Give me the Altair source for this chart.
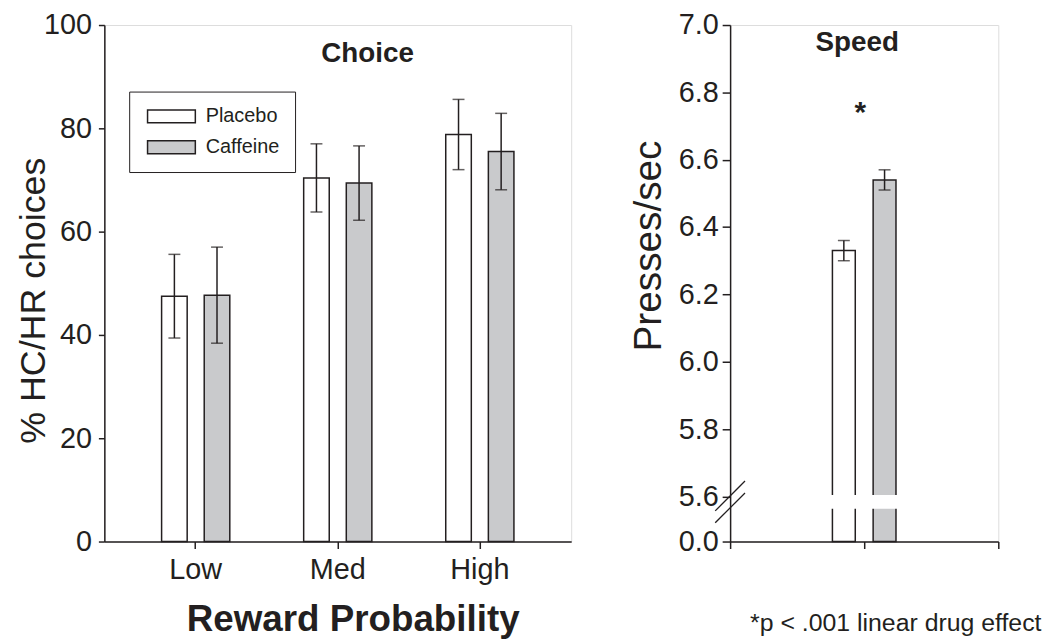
import altair as alt
import pandas as pd

FONT = "Liberation Sans"
INK = "#231f20"
GRAY = "#c9cacc"

# ---------------- data ----------------
reward_levels = ["Low", "Med", "High"]
drugs = ["Placebo", "Caffeine"]

choice_placebo = [47.5, 70.4, 78.8]
choice_caffeine = [47.7, 69.4, 75.5]
choice_err_placebo = [8.1, 6.6, 6.8]
choice_err_caffeine = [9.3, 7.2, 7.4]
choice_ticks = [0, 20, 40, 60, 80, 100]

speed_mean = [6.33, 6.54]      # Placebo, Caffeine
speed_err = [0.03, 0.03]
speed_floor = 5.466            # where the broken axis shows "0.0"
speed_ticks = [5.466, 5.6, 5.8, 6.0, 6.2, 6.4, 6.6, 6.8, 7.0]
speed_top = 7.0
break_gap = [5.568, 5.60]      # white gap cut through the bars
slash_left_y = [5.557, 5.522]  # axis-break slashes (left ends)
slash_right_y = [5.646, 5.610] # axis-break slashes (right ends)
sig_y = 6.74

rows = []
for i, r in enumerate(reward_levels):
    rows.append({"Reward": r, "Drug": "Placebo", "Mean": choice_placebo[i], "Err": choice_err_placebo[i]})
    rows.append({"Reward": r, "Drug": "Caffeine", "Mean": choice_caffeine[i], "Err": choice_err_caffeine[i]})
choice_df = pd.DataFrame(rows)

speed_df = pd.DataFrame({"Drug": drugs, "Mean": speed_mean, "Err": speed_err,
                         "GapLo": [break_gap[0]] * 2, "GapHi": [break_gap[1]] * 2})
slash_df = pd.DataFrame({"y1": slash_left_y, "y2": slash_right_y})

fill_scale = alt.Scale(domain=drugs, range=["#ffffff", GRAY])

# ---------------- left panel: Choice ----------------
lbase = alt.Chart(choice_df).transform_calculate(
    lo="datum.Mean - datum.Err", hi="datum.Mean + datum.Err"
).encode(
    x=alt.X("Reward:N", sort=reward_levels,
            scale=alt.Scale(domain=reward_levels, paddingInner=0.4, paddingOuter=0.343),
            axis=alt.Axis(title="Reward Probability", labelAngle=0, labelFont=FONT,
                          labelFontSize=29, labelColor=INK, labelPadding=7, tickSize=7,
                          tickColor=INK, tickWidth=1.5, domainColor=INK, domainWidth=1.5,
                          titleFont=FONT, titleFontSize=37, titleFontWeight="bold",
                          titleColor=INK, titleX=250, titleY=90, titleAlign="center",
                          titleBaseline="alphabetic")),
    xOffset=alt.XOffset("Drug:N", sort=drugs,
                        scale=alt.Scale(domain=drugs, paddingInner=0.4, paddingOuter=0.2)),
)

lbars = lbase.mark_bar(stroke=INK, strokeWidth=1.5).encode(
    y=alt.Y("Mean:Q", scale=alt.Scale(domain=[0, 100], nice=False),
            axis=alt.Axis(values=choice_ticks, grid=False, labelFont=FONT, labelFontSize=29,
                          labelColor=INK, labelPadding=7, tickSize=6, tickColor=INK,
                          tickWidth=1.5, domainColor=INK, domainWidth=1.5,
                          title="% HC/HR choices", titleFont=FONT, titleFontSize=36,
                          titleFontWeight="normal", titleColor=INK, titleX=-71, titleY=277,
                          titleAngle=-90, titleBaseline="middle", titleAlign="center")),
    fill=alt.Fill("Drug:N", sort=drugs, scale=fill_scale,
                  legend=alt.Legend(title=None, orient="none", legendX=25, legendY=67,
                                    symbolType="M-1,-1H6.4V1H-1Z", symbolSize=169,
                                    symbolStrokeColor=INK, symbolStrokeWidth=1.5,
                                    labelFont=FONT, labelFontSize=20, labelColor=INK,
                                    labelOffset=42, rowPadding=11, padding=15,
                                    strokeColor=INK)),
)
lrule = lbase.mark_rule(color=INK, strokeWidth=1.5).encode(y="lo:Q", y2="hi:Q")
lcap_lo = lbase.mark_tick(color=INK, thickness=1.5, size=12).encode(y="lo:Q")
lcap_hi = lbase.mark_tick(color=INK, thickness=1.5, size=12).encode(y="hi:Q")

choice_title = alt.Chart(pd.DataFrame({"t": ["Choice"]})).mark_text(
    font=FONT, fontSize=28, fontWeight="bold", color=INK, baseline="middle", align="center"
).encode(x=alt.value(265), y=alt.value(29), text="t:N")

left = alt.layer(lbars, lrule, lcap_lo, lcap_hi, choice_title).properties(width=470, height=520)

# ---------------- right panel: Speed ----------------
speed_label_expr = "datum.value < 5.5 ? '0.0' : format(datum.value, '.1f')"

rbase = alt.Chart(speed_df).transform_calculate(
    lo="datum.Mean - datum.Err", hi="datum.Mean + datum.Err"
).encode(
    x=alt.X("Drug:N", sort=drugs,
            scale=alt.Scale(domain=drugs, paddingInner=0, paddingOuter=0),
            axis=alt.Axis(labels=False, tickBand="extent", tickSize=7, tickColor=INK,
                          tickWidth=1.5, domainColor=INK, domainWidth=1.5,
                          title="*p < .001 linear drug effect", titleFont=FONT,
                          titleFontSize=25, titleFontWeight="normal", titleColor=INK,
                          titleX=313, titleY=90, titleAlign="right",
                          titleBaseline="alphabetic")),
    xOffset=alt.XOffset("Drug:N",
                        scale=alt.Scale(domain=drugs[::-1], paddingInner=0.7553,
                                        paddingOuter=0.0957)),
)

speed_y_scale = alt.Scale(domain=[speed_floor, speed_top], zero=False, nice=False)

rbars = rbase.mark_bar(stroke=INK, strokeWidth=1.5).encode(
    y=alt.Y("Mean:Q", scale=speed_y_scale,
            axis=alt.Axis(values=speed_ticks, labelExpr=speed_label_expr, grid=False,
                          labelFont=FONT, labelFontSize=29, labelColor=INK, labelPadding=4,
                          tickSize=8, tickColor=INK, tickWidth=1.5, domainColor=INK,
                          domainWidth=1.5, title="Presses/sec", titleFont=FONT,
                          titleFontSize=39, titleFontWeight="normal", titleColor=INK,
                          titleX=-82, titleY=222, titleAngle=-90, titleBaseline="middle",
                          titleAlign="center")),
    y2=alt.datum(speed_floor),
    fill=alt.Fill("Drug:N", sort=drugs, scale=fill_scale, legend=None),
)
rgap = rbase.mark_bar(fill="white", stroke="white", strokeWidth=3).encode(
    y="GapLo:Q", y2="GapHi:Q")
rrule = rbase.mark_rule(color=INK, strokeWidth=1.5).encode(y="lo:Q", y2="hi:Q")
rcap_lo = rbase.mark_tick(color=INK, thickness=1.5, size=12).encode(y="lo:Q")
rcap_hi = rbase.mark_tick(color=INK, thickness=1.5, size=12).encode(y="hi:Q")

slashes = alt.Chart(slash_df).mark_rule(color=INK, strokeWidth=1.3).encode(
    x=alt.value(-15), x2=alt.value(15), y="y1:Q", y2="y2:Q")

sig = alt.Chart(pd.DataFrame({"Drug": ["Caffeine"], "y": [sig_y], "label": ["*"]})).mark_text(
    font=FONT, fontSize=30, fontWeight="bold", color=INK, dx=-4, baseline="middle"
).encode(x=alt.X("Drug:N", bandPosition=0), y="y:Q", text="label:N")

speed_title = alt.Chart(pd.DataFrame({"t": ["Speed"]})).mark_text(
    font=FONT, fontSize=28, fontWeight="bold", color=INK, baseline="middle", align="center"
).encode(x=alt.value(128), y=alt.value(18), text="t:N")

right = alt.layer(rbars, rgap, rrule, rcap_lo, rcap_hi, slashes, sig, speed_title).properties(
    width=270, height=520)

chart = alt.hconcat(left, right, spacing=57).resolve_scale(
    fill="independent", xOffset="independent"
).resolve_legend(fill="independent").configure_view(stroke=None).configure(
    background="white", padding={"left": 7, "top": 0, "right": 0, "bottom": 0}
)

chart.save("out.html", embed_options={"renderer": "svg", "actions": False})
